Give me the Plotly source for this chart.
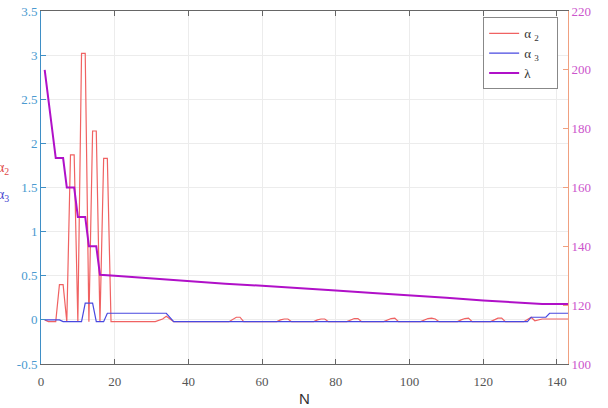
import plotly.graph_objects as go

# ---- data ----
n_alpha2 = [1, 2, 4, 5, 6, 7, 8, 9, 10, 11, 12, 13, 14, 15, 16, 17, 18, 19,
            31, 33, 34, 35, 36,
            51, 52, 53, 54, 55,
            64, 65, 66, 67, 68,
            74, 75, 76, 77, 78,
            83, 84, 85, 86, 87,
            93, 94, 95, 96, 97,
            103, 104, 105, 106, 107, 108,
            113, 114, 115, 116, 117,
            122, 123, 124, 125, 126,
            131, 133, 134, 136, 143]
alpha2 = [0.0, -0.02, -0.02, 0.40, 0.40, -0.02, 1.87, 1.87, -0.02, 3.02, 3.02, -0.02,
          2.14, 2.14, -0.02, 1.83, 1.83, -0.02,
          -0.02, 0.01, 0.04, 0.01, -0.02,
          -0.02, 0.01, 0.03, 0.03, -0.02,
          -0.02, 0.0, 0.01, 0.01, -0.02,
          -0.02, 0.0, 0.01, 0.01, -0.02,
          -0.02, 0.0, 0.015, 0.015, -0.02,
          -0.02, 0.0, 0.015, 0.02, -0.02,
          -0.02, 0.0, 0.015, 0.02, 0.01, -0.02,
          -0.02, 0.0, 0.015, 0.02, -0.02,
          -0.02, 0.0, 0.02, 0.02, -0.02,
          -0.02, 0.03, -0.01, 0.01, 0.01]

n_alpha3 = [1, 5, 6, 11, 12, 14, 15, 17, 18, 34, 36, 132, 133, 137, 138, 143]
alpha3 = [0.0, 0.0, -0.02, -0.02, 0.19, 0.19, -0.02, -0.02, 0.075, 0.075, -0.02,
          -0.02, 0.03, 0.03, 0.075, 0.075]

n_lambda = [1, 4, 6, 7, 9, 10, 12, 13, 15, 16, 20, 30, 40, 50, 60, 70, 80, 90,
            100, 110, 120, 130, 136, 143]
lam = [200, 170, 170, 160, 160, 150, 150, 140, 140, 130.3, 130.0, 129.1, 128.1,
       127.3, 126.6, 125.9, 125.0, 124.1, 123.4, 122.5, 121.6, 120.9, 120.4, 120.4]

x_ticks = [0, 20, 40, 60, 80, 100, 120, 140]
y1_ticks = [-0.5, 0, 0.5, 1, 1.5, 2, 2.5, 3, 3.5]
y1_text = ["-0.5", "0", "0.5", "1", "1.5", "2", "2.5", "3", "3.5"]
y2_ticks = [100, 120, 140, 160, 180, 200, 220]

SERIF = "Liberation Serif, DejaVu Serif, serif"
NB = "\u00a0"

fig = go.Figure()
fig.add_trace(go.Scatter(x=n_alpha2, y=alpha2, mode="lines",
                         name="α <sub>2</sub>" + NB * 4,
                         line=dict(color="#f06262", width=1.2)))
fig.add_trace(go.Scatter(x=n_alpha3, y=alpha3, mode="lines",
                         name="α <sub>3</sub>" + NB * 4,
                         line=dict(color="#4848e0", width=1.2)))
fig.add_trace(go.Scatter(x=n_lambda, y=lam, mode="lines", name="λ", yaxis="y2",
                         line=dict(color="#b010c8", width=2)))

fig.update_layout(
    width=608, height=408,
    margin=dict(l=41, r=40, t=4, b=44, pad=0),
    paper_bgcolor="white", plot_bgcolor="white",
    font=dict(family=SERIF, size=13, color="#555"),
    xaxis=dict(range=[0, 143], tickvals=x_ticks, showgrid=True, gridcolor="#ececec",
               showline=True, linecolor="#666", linewidth=1, mirror="ticks",
               ticks="inside", ticklen=5, tickcolor="#666", ticklabelstandoff=5,
               tickfont=dict(family=SERIF, size=13, color="#555"), zeroline=False,
               title=dict(text="N", font=dict(family="Liberation Sans", size=15, color="#333"),
                          standoff=5)),
    yaxis=dict(range=[-0.5, 3.5], tickvals=y1_ticks, ticktext=y1_text, showgrid=True,
               gridcolor="#ececec", showline=True, linecolor="#3f8fc6", linewidth=1,
               ticks="inside", ticklen=5, tickcolor="#3f8fc6", ticklabeloverflow="allow",
               tickfont=dict(family=SERIF, size=13, color="#4a9ad0"), zeroline=False),
    yaxis2=dict(range=[100, 220], tickvals=y2_ticks, overlaying="y", side="right",
                showgrid=False, showline=True, linecolor="#f0a080", linewidth=1,
                ticks="inside", ticklen=5, tickcolor="#f0a080", ticklabeloverflow="allow",
                tickfont=dict(family=SERIF, size=13, color="#cc55cc"), zeroline=False),
    legend=dict(x=0.839, y=0.982, xanchor="left", yanchor="top", bgcolor="white",
                bordercolor="#888", borderwidth=1, itemwidth=30,
                font=dict(family=SERIF, size=13, color="#333")),
    annotations=[
        dict(text="α<sub>2</sub>", xref="paper", yref="paper", x=-0.087, y=0.553,
             xanchor="left", yanchor="middle", showarrow=False,
             font=dict(family=SERIF, size=14, color="#e04848")),
        dict(text="α<sub>3</sub>", xref="paper", yref="paper", x=-0.087, y=0.478,
             xanchor="left", yanchor="middle", showarrow=False,
             font=dict(family=SERIF, size=14, color="#4848d0")),
    ],
)

fig.write_html("out.html")
